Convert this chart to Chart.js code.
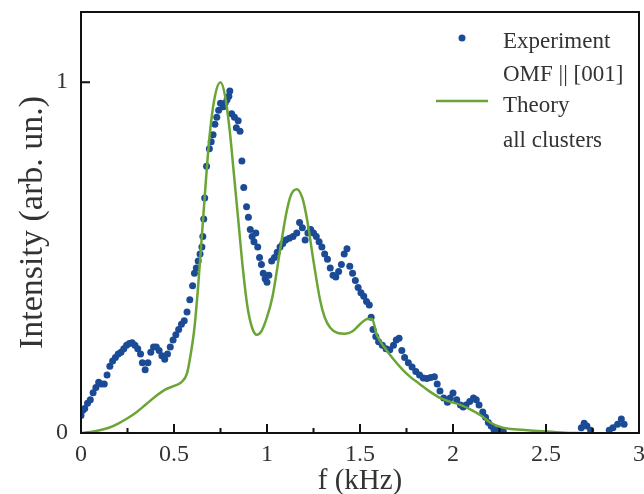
<!DOCTYPE html>
<html>
<head>
<meta charset="utf-8">
<script src="https://cdn.jsdelivr.net/npm/chart.js@4.4.1/dist/chart.umd.min.js"></script>
<style>
    body { margin: 0; background: #fff; }
    #wrap { width: 644px; height: 494px; position: relative; }
</style>
</head>
<body>
<div id="wrap"><canvas id="spectrum"></canvas></div>
<script>
// experiment points (f in kHz, intensity arb. un.)
const expFreq = [
    0.0, 0.01, 0.02, 0.035, 0.05, 0.065, 0.08, 0.095, 0.11, 0.125, 0.14, 0.155, 0.17, 0.185, 0.2,
    0.215, 0.23, 0.245, 0.26, 0.275, 0.29, 0.305, 0.32, 0.33, 0.345, 0.36, 0.375, 0.39, 0.405, 0.42,
    0.435, 0.45, 0.465, 0.48, 0.495, 0.51, 0.525, 0.54, 0.555, 0.57, 0.585, 0.6, 0.61, 0.62, 0.63,
    0.64, 0.65, 0.655, 0.66, 0.665, 0.675, 0.69, 0.7, 0.71, 0.72, 0.73, 0.74, 0.75, 0.765, 0.775,
    0.785, 0.795, 0.80, 0.81, 0.825, 0.835, 0.845, 0.855, 0.865, 0.875, 0.89, 0.90, 0.91, 0.92, 0.93,
    0.94, 0.95, 0.96, 0.97, 0.98, 0.99, 1.0, 1.01, 1.025, 1.04, 1.055, 1.07, 1.085, 1.10, 1.12,
    1.14, 1.16, 1.175, 1.19, 1.205, 1.22, 1.235, 1.25, 1.265, 1.28, 1.295, 1.31, 1.325, 1.34, 1.355,
    1.37, 1.385, 1.40, 1.415, 1.43, 1.445, 1.46, 1.475, 1.49, 1.505, 1.52, 1.535, 1.55, 1.56, 1.57,
    1.585, 1.60, 1.62, 1.64, 1.66, 1.68, 1.695, 1.71, 1.725, 1.74, 1.76, 1.78, 1.80, 1.82, 1.84,
    1.86, 1.88, 1.90, 1.915, 1.93, 1.95, 1.97, 1.985, 2.0, 2.02, 2.04, 2.055, 2.07, 2.09, 2.11,
    2.125, 2.14, 2.16, 2.175, 2.19, 2.205, 2.22, 2.24, 2.27, 2.69, 2.705, 2.72, 2.74, 2.84, 2.86,
    2.885, 2.905, 2.92
];
const expInt = [
    0.05, 0.065, 0.07, 0.085, 0.095, 0.115, 0.13, 0.145, 0.14, 0.14, 0.165, 0.19, 0.205, 0.215, 0.225,
    0.23, 0.24, 0.25, 0.255, 0.257, 0.25, 0.24, 0.225, 0.2, 0.18, 0.2, 0.23, 0.245, 0.245, 0.235,
    0.22, 0.21, 0.225, 0.245, 0.265, 0.28, 0.295, 0.31, 0.32, 0.345, 0.38, 0.42, 0.455, 0.47, 0.49,
    0.51, 0.53, 0.56, 0.61, 0.67, 0.76, 0.81, 0.83, 0.85, 0.88, 0.9, 0.92, 0.94, 0.93, 0.94,
    0.95, 0.96, 0.975, 0.91, 0.9, 0.87, 0.89, 0.86, 0.775, 0.70, 0.645, 0.615, 0.58, 0.56, 0.545,
    0.57, 0.53, 0.50, 0.48, 0.455, 0.44, 0.43, 0.45, 0.49, 0.50, 0.515, 0.53, 0.54, 0.55, 0.555,
    0.56, 0.57, 0.60, 0.585, 0.55, 0.57, 0.58, 0.57, 0.56, 0.545, 0.53, 0.51, 0.495, 0.47, 0.45,
    0.445, 0.46, 0.48, 0.51, 0.525, 0.475, 0.455, 0.435, 0.415, 0.40, 0.39, 0.375, 0.365, 0.33, 0.295,
    0.275, 0.26, 0.25, 0.24, 0.237, 0.25, 0.265, 0.27, 0.235, 0.215, 0.2, 0.188, 0.175, 0.165, 0.157,
    0.155, 0.158, 0.16, 0.14, 0.12, 0.10, 0.088, 0.10, 0.114, 0.095, 0.08, 0.074, 0.08, 0.09, 0.1,
    0.095, 0.08, 0.06, 0.045, 0.03, 0.02, 0.01, 0.008, 0.005, 0.015, 0.028, 0.02, 0.008, 0.008, 0.015,
    0.025, 0.04, 0.025
];

// theory curve, all clusters
const theoryFreq = [
    0, 0.05, 0.1, 0.15, 0.2, 0.25, 0.3, 0.35, 0.4, 0.45, 0.5, 0.54, 0.57, 0.59, 0.61, 0.63, 0.655,
    0.69, 0.72, 0.75, 0.775, 0.8, 0.82, 0.845, 0.87, 0.895, 0.92, 0.945, 0.97, 1.0, 1.03, 1.07,
    1.105, 1.13, 1.16, 1.19, 1.215, 1.25, 1.285, 1.31, 1.34, 1.38, 1.42, 1.46, 1.5, 1.54, 1.565,
    1.59, 1.63, 1.68, 1.73, 1.77, 1.82, 1.87, 1.93, 1.98, 2.04, 2.1, 2.15, 2.2, 2.25, 2.3, 2.4,
    2.5, 2.6, 2.7
];
const theoryInt = [
    0, 0.003, 0.008, 0.015, 0.027, 0.042, 0.06, 0.082, 0.104, 0.123, 0.134, 0.145, 0.17, 0.225, 0.30, 0.42, 0.6,
    0.84, 0.96, 1.0, 0.96, 0.86, 0.75, 0.61, 0.47, 0.36, 0.30, 0.28, 0.29, 0.33, 0.39, 0.52,
    0.63, 0.68, 0.695, 0.67, 0.61, 0.49, 0.38, 0.33, 0.30, 0.285, 0.283, 0.29, 0.31, 0.325, 0.325,
    0.28, 0.245, 0.21, 0.18, 0.16, 0.14, 0.12, 0.10, 0.09, 0.08, 0.065, 0.05, 0.03, 0.018, 0.012, 0.008,
    0.004, 0.001, 0
];

const xTickValues = [0, 0.5, 1, 1.5, 2, 2.5, 3];
const xMinorValues = [0.25, 0.75, 1.25, 1.75, 2.25, 2.75];
const yTickValues = [0, 1];

const expColor = '#1c4b96';
const theoryColor = '#6aa536';
const serif = "'Liberation Serif', 'Times New Roman', serif";

// frame, inward ticks and the legend box
const framePlugin = {
    id: 'frame',
    afterDraw(chart) {
        const ctx = chart.ctx;
        const a = chart.chartArea;
        const xs = chart.scales.x;
        const ys = chart.scales.y;
        ctx.save();
        ctx.strokeStyle = '#111';
        ctx.lineWidth = 2;
        ctx.strokeRect(a.left, a.top, a.right - a.left, a.bottom - a.top);

        ctx.beginPath();
        xTickValues.forEach(v => {
            const px = xs.getPixelForValue(v);
            ctx.moveTo(px, a.bottom);
            ctx.lineTo(px, a.bottom - 9);
        });
        xMinorValues.forEach(v => {
            const px = xs.getPixelForValue(v);
            ctx.moveTo(px, a.bottom);
            ctx.lineTo(px, a.bottom - 5);
        });
        yTickValues.forEach(v => {
            const py = ys.getPixelForValue(v);
            ctx.moveTo(a.left, py);
            ctx.lineTo(a.left + 9, py);
        });
        ctx.stroke();

        // legend
        const lx = a.right - 136;
        ctx.fillStyle = expColor;
        ctx.beginPath();
        ctx.arc(lx - 41, 38, 3.5, 0, Math.PI * 2);
        ctx.fill();

        ctx.strokeStyle = theoryColor;
        ctx.lineWidth = 2.5;
        ctx.beginPath();
        ctx.moveTo(lx - 67, 101);
        ctx.lineTo(lx - 15, 101);
        ctx.stroke();

        ctx.fillStyle = '#333';
        ctx.font = '23px ' + serif;
        ctx.textBaseline = 'middle';
        ctx.textAlign = 'left';
        ctx.fillText('Experiment', lx, 42);
        ctx.fillText('OMF || [001]', lx, 75);
        ctx.fillText('Theory', lx, 106);
        ctx.fillText('all clusters', lx, 141);
        ctx.restore();
    }
};

const ctx = document.getElementById('spectrum').getContext('2d');
const spectrumChart = new Chart(ctx, {
    type: 'scatter',
    data: {
        datasets: [
            {
                label: 'Theory all clusters',
                data: theoryFreq.map((f, i) => ({ x: f, y: theoryInt[i] })),
                showLine: true,
                borderColor: theoryColor,
                borderWidth: 2.5,
                pointRadius: 0,
                cubicInterpolationMode: 'monotone',
                order: 0
            },
            {
                label: 'Experiment OMF || [001]',
                data: expFreq.map((f, i) => ({ x: f, y: expInt[i] })),
                backgroundColor: expColor,
                borderColor: expColor,
                borderWidth: 0,
                pointRadius: 3.5,
                order: 1
            }
        ]
    },
    options: {
        responsive: true,
        maintainAspectRatio: false,
        animation: false,
        layout: { padding: { top: 12, right: 5, left: 0, bottom: 0 } },
        plugins: {
            legend: { display: false },
            tooltip: { enabled: false }
        },
        scales: {
            x: {
                type: 'linear',
                min: 0,
                max: 3,
                afterBuildTicks: scale => { scale.ticks = xTickValues.map(v => ({ value: v })); },
                afterFit: scale => {
                    scale.height = 61;
                    scale.paddingLeft = 0;
                    scale.paddingRight = 0;
                },
                grid: { display: false, drawTicks: false },
                border: { display: false },
                ticks: {
                    padding: 10,
                    color: '#333',
                    maxRotation: 0,
                    autoSkip: false,
                    font: { family: serif, size: 24, lineHeight: 1 },
                    callback: v => String(v)
                },
                title: {
                    display: true,
                    text: 'f (kHz)',
                    color: '#333',
                    padding: { top: 0, bottom: -2 },
                    font: { family: serif, size: 29, lineHeight: 1 }
                }
            },
            y: {
                min: 0,
                max: 1.2,
                afterBuildTicks: scale => { scale.ticks = yTickValues.map(v => ({ value: v })); },
                afterFit: scale => {
                    scale.width = 81;
                    scale.paddingTop = 0;
                    scale.paddingBottom = 0;
                },
                grid: { display: false, drawTicks: false },
                border: { display: false },
                ticks: {
                    padding: 13,
                    color: '#333',
                    font: { family: serif, size: 24, lineHeight: 1 },
                    callback: v => String(v)
                },
                title: {
                    display: true,
                    text: 'Intensity (arb. un.)',
                    color: '#333',
                    padding: { top: 16, bottom: 0 },
                    font: { family: serif, size: 34, lineHeight: 1 }
                }
            }
        }
    },
    plugins: [framePlugin]
});
</script>
</body>
</html>
